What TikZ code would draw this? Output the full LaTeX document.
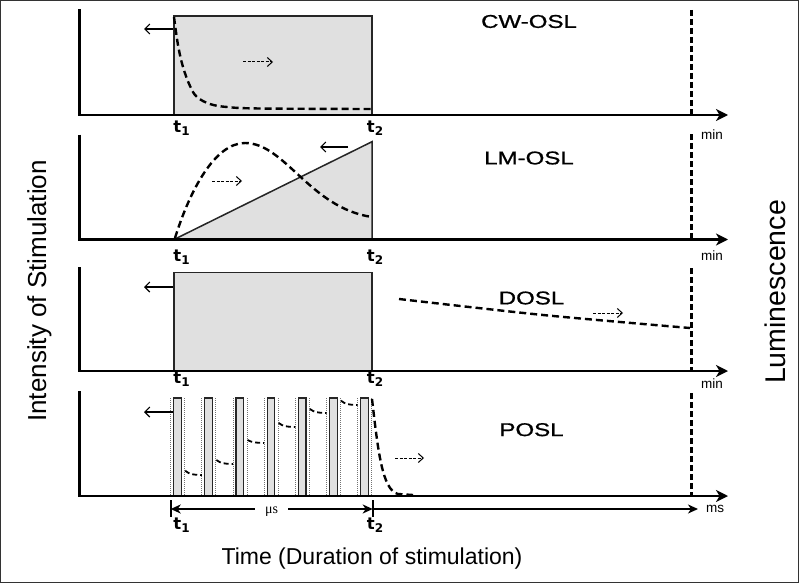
\documentclass[tikz,border=0pt]{standalone}
\usepackage{fontspec}
\setmainfont{Liberation Sans}
\newfontfamily\tfont{DejaVu Sans}
\newfontfamily\serifont{Liberation Serif}
\newfontfamily\titelfont[FakeBold=0.8]{Liberation Sans}
\usetikzlibrary{arrows.meta}

\newcommand{\tind}[1]{t\raisebox{-0.35ex}{\fontsize{12}{12}\selectfont #1}}

\tikzset{
    achse/.style={line width=2.9pt, -{Stealth[length=12pt,width=12pt,inset=3.5pt]}},
    flaeche/.style={fill=black!12, draw=black!85, line width=1.5pt},
    puls/.style={fill=black!12, draw=black!85, line width=1.1pt},
    punktiert/.style={black!55, line width=0.5pt, dash pattern=on 1pt off 1pt},
    kurve/.style={line width=2.4pt, dash pattern=on 7pt off 4pt},
    kurz/.style={line width=1.8pt, dash pattern=on 5pt off 3pt},
    grenze/.style={line width=3pt, dash pattern=on 6pt off 3pt},
    pfeil/.style={line width=1.1pt, -{Straight Barb[length=5pt,width=10pt]}},
    spfeil/.style={line width=1pt, dash pattern=on 3pt off 1.5pt, -{Straight Barb[length=5pt,width=9pt]}},
    masz/.style={line width=2pt, -{Stealth[length=10pt,width=9pt,inset=3pt]}},
    titel/.style={font=\fontsize{18.5}{20}\selectfont\titelfont, xscale=1.3, inner sep=0pt},
    zeit/.style={font=\fontsize{16.5}{16.5}\selectfont\tfont\bfseries, inner sep=0pt},
    einheit/.style={font=\fontsize{13.5}{13.5}\selectfont, inner sep=0pt},
    gross/.style={font=\fontsize{23}{26}\selectfont, inner sep=0pt}
}

\begin{document}
\begin{tikzpicture}[x=1pt, y=-1pt]
    \useasboundingbox (0,0) rectangle (799,583);
    \draw[black!80, line width=1pt] (0.5,0.5) rectangle (798.5,582.5);

    \draw[flaeche] (174,16) rectangle (372,115);
    \draw[flaeche] (174,239.5) -- (372,141.7) -- (372,239.5) -- cycle;
    \draw[flaeche] (174,272.7) rectangle (372,371);
    \foreach \i in {0,...,6} {
        \pgfmathsetmacro\c{177.5+31.17*\i}
        \draw[punktiert] ({\c-7},398) -- ({\c-7},496) ({\c+7},398) -- ({\c+7},496);
        \draw[puls] ({\c-3.8},398) rectangle ({\c+3.8},496);
    }

    \foreach \y/\top/\g in {115/9.5/10, 239.5/134.5/134, 371/267/268, 496/391/393} {
        \draw[grenze] (691,\g) -- (691,\y);
        \draw[achse] (79.5,\top) |- (728,\y);
    }

    \draw[kurve] plot[smooth, tension=0.6] coordinates {(174,17) (178,45) (183,67) (190,86) (197,97) (210,104) (227,107) (260,108.5) (372,109)};
    \draw[kurve] (175,238) .. controls (190,190) and (215,143) .. (245,143)
        .. controls (285,143) and (310,208) .. (372,217);
    \draw[kurve] plot[smooth] coordinates {(399,299) (543,315) (690,328)};
    \foreach \c/\a/\b in {177.5/470.7/475, 208.7/460/464, 239.8/440/443, 271/423/427, 302.2/409/413, 333.3/400.7/405} {
        \draw[kurz] ({\c+7.7},\a) .. controls ({\c+13},{\b-0.5}) .. ({\c+24.4},\b);
    }
    \draw[kurve] (372,399) .. controls (378,450) and (382,490) .. (398,494) -- (413,495);

    \draw[pfeil] (173,29) -- (144,29);
    \draw[pfeil] (348,147) -- (320,147);
    \draw[pfeil] (173,287) -- (144,287);
    \draw[pfeil] (173,412) -- (144,412);
    \draw[spfeil] (243,62) -- (273,62);
    \draw[spfeil] (212,181) -- (242,181);
    \draw[spfeil] (593,313) -- (623,313);
    \draw[spfeil] (395,458) -- (424,458);

    \path node[titel] (cw) at (529,21.5) {CW-OSL}
        node[titel] (lm) at (529,158) {LM-OSL}
        node[titel] (dosl) at (531.5,298) {DOSL}
        node[titel] (posl) at (531.5,429.7) {POSL};

    \path node[zeit] (ta1) at (181.5,128) {\tind1}
        node[zeit] (ta2) at (375,128) {\tind2}
        node[zeit] (tb1) at (181.5,257) {\tind1}
        node[zeit] (tb2) at (375,257) {\tind2}
        node[zeit] (tc1) at (181.5,379) {\tind1}
        node[zeit] (tc2) at (375,379) {\tind2}
        node[zeit] (td1) at (181.5,525) {\tind1}
        node[zeit] (td2) at (375,525) {\tind2};

    \path node[einheit] (min1) at (712,135) {min}
        node[einheit] (min2) at (712,256) {min}
        node[einheit] (min3) at (712,384) {min}
        node[einheit] (ms) at (715,509) {ms};

    \coordinate (a1) at (170.7,509);
    \coordinate (a2) at (372.7,509);
    \coordinate (a3) at (698,509);
    \draw[line width=1.8pt] (170.7,500) -- (170.7,517) (372.7,500) -- (372.7,517);
    \draw[masz, {Stealth[length=10pt,width=9pt,inset=3pt]}-{Stealth[length=10pt,width=9pt,inset=3pt]}] (a1) -- node[fill=white, inner xsep=10pt, inner ysep=2pt, yshift=-3pt, font=\fontsize{14}{14}\selectfont\serifont] (mu) {μs} (a2);
    \draw[masz] (a2) -- (a3);

    \path node[gross, rotate=90, font=\fontsize{26}{28}\selectfont] (intens) at (39.5,291) {Intensity of Stimulation}
        node[gross, rotate=90, font=\fontsize{28.5}{30}\selectfont] (lumi) at (775,292) {Luminescence}
        node[gross] (zeitachse) at (372,559) {Time (Duration of stimulation)};
\end{tikzpicture}
\end{document}
